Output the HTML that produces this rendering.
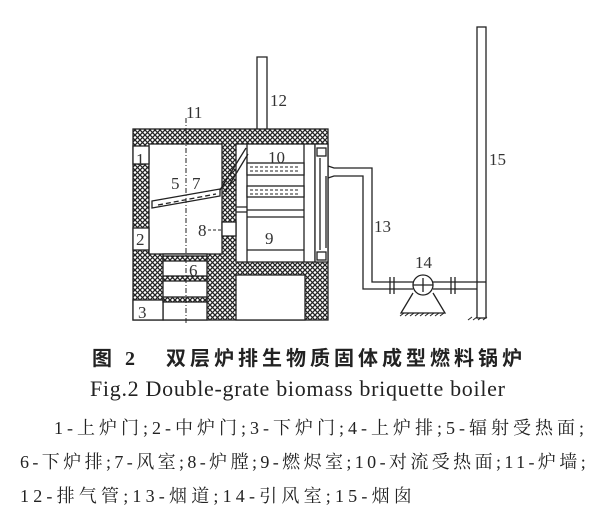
<!DOCTYPE html>
<html><head><meta charset="utf-8"><style>
html,body{margin:0;padding:0;background:#fff;}
body{width:600px;height:512px;position:relative;overflow:hidden;}
.t{position:absolute;white-space:nowrap;color:#222;}
</style></head><body>
<svg width="600" height="340" style="position:absolute;left:0;top:0" xmlns="http://www.w3.org/2000/svg">
<defs>
<pattern id="h" width="5" height="5" patternUnits="userSpaceOnUse">
<rect width="5" height="5" fill="#fff"/>
<path d="M0,0L5,5M5,0L0,5" stroke="#222" stroke-width="1.3"/>
</pattern>
</defs>
<g stroke="#222" stroke-width="1.3" fill="none">
<rect x="133" y="129" width="195" height="191" fill="url(#h)"/>
<rect x="149" y="144" width="73" height="110" fill="#fff"/>
<rect x="236" y="144" width="79" height="118" fill="#fff"/>
<rect x="315" y="144" width="13" height="118" fill="#fff"/>
<rect x="163" y="254" width="44" height="66" fill="#fff"/>
<rect x="236" y="275" width="69" height="45" fill="#fff"/>
<rect x="133" y="146" width="16" height="18" fill="#fff"/>
<rect x="133" y="228" width="16" height="22" fill="#fff"/>
<rect x="133" y="300" width="30" height="20" fill="#fff"/>
<rect x="163" y="256" width="44" height="5" fill="url(#h)"/>
<rect x="163" y="276" width="44" height="5" fill="url(#h)"/>
<rect x="163" y="297" width="44" height="5" fill="url(#h)"/>
<rect x="222" y="222" width="14" height="14" fill="#fff"/>
<path d="M152,201 L220,189 L220,196 L152,208 Z" fill="#fff"/>
<path d="M158,205 L216,194" stroke-dasharray="5,3"/>
<path d="M220,190 L246,148 M225,192 L248,154"/>
<path d="M247,144 V262 M304,144 V262"/>
<rect x="247" y="163" width="57" height="12" fill="#fff"/>
<path d="M250,167 H300 M250,171 H300" stroke-dasharray="3,2" stroke-width="1"/>
<rect x="247" y="186" width="57" height="11" fill="#fff"/>
<path d="M250,190 H300 M250,194 H300" stroke-dasharray="3,2" stroke-width="1"/>
<path d="M236,207 H247 M236,212 H247 M247,210 H304 M247,217 H304 M247,250 H304"/>
<rect x="317" y="148" width="9" height="8"/>
<rect x="317" y="252" width="9" height="8"/>
<path d="M320,158 V250 M326,176 V248"/>
<path d="M186,118 V325" stroke-dasharray="5,2,1,2" stroke-width="1"/>
<path d="M208,230 H222" stroke-dasharray="3,2" stroke-width="1"/>
<path d="M257,129 V57 H267 V129"/>
<path d="M328,166 L334,168 H372 V282 H392"/>
<path d="M328,178 L334,176 H363 V289 H392"/>
<path d="M392,282 H413 M392,289 H413 M433,282 H477 M433,289 H477"/>
<path d="M390,277 V294 M394,277 V294 M451,277 V294 M455,277 V294"/>
<circle cx="423" cy="285" r="10" fill="#fff"/>
<path d="M413,285 H433 M423,278 V292"/>
<path d="M413,293 L401,313 H445 L433,293"/>
<path d="M400,316 l4,-3 M405,316 l4,-3 M410,316 l4,-3 M415,316 l4,-3 M420,316 l4,-3 M425,316 l4,-3 M430,316 l4,-3 M435,316 l4,-3 M440,316 l4,-3 M468,320 l4,-3 M473,320 l4,-3 M478,320 l4,-3 M483,320 l4,-3" stroke-width="1"/>
<rect x="477" y="27" width="9" height="291" fill="#fff"/>
<path d="M477,282 H486"/>
</g>
<g font-family="Liberation Serif,serif" font-size="17" fill="#333">
<text x="186" y="118">11</text>
<text x="270" y="106">12</text>
<text x="268" y="163">10</text>
<text x="171" y="189">5</text>
<text x="192" y="189">7</text>
<text x="198" y="236">8</text>
<text x="265" y="244">9</text>
<text x="136" y="165">1</text>
<text x="136" y="245">2</text>
<text x="138" y="318">3</text>
<text x="189" y="276">6</text>
<text x="374" y="232">13</text>
<text x="415" y="268">14</text>
<text x="489" y="165">15</text>
</g>
</svg>
<div class="t" style="left:92px;top:342px;font-family:'Liberation Serif','Noto Sans CJK SC',sans-serif;font-size:20px;font-weight:bold;letter-spacing:4px;">图 2&nbsp;&nbsp; 双层炉排生物质固体成型燃料锅炉</div>
<div class="t" style="left:90px;top:376px;font-family:'Liberation Serif',serif;font-size:22px;letter-spacing:0.7px;">Fig.2 Double-grate biomass briquette boiler</div>
<div class="t" style="left:54px;top:414px;font-family:'Liberation Serif','Noto Serif CJK SC',serif;font-size:18px;letter-spacing:4px;">1-上炉门;2-中炉门;3-下炉门;4-上炉排;5-辐射受热面;</div>
<div class="t" style="left:20px;top:448px;font-family:'Liberation Serif','Noto Serif CJK SC',serif;font-size:18px;letter-spacing:3.4px;">6-下炉排;7-风室;8-炉膛;9-燃烬室;10-对流受热面;11-炉墙;</div>
<div class="t" style="left:20px;top:482px;font-family:'Liberation Serif','Noto Serif CJK SC',serif;font-size:18px;letter-spacing:4.2px;">12-排气管;13-烟道;14-引风室;15-烟囱</div>
</body></html>
